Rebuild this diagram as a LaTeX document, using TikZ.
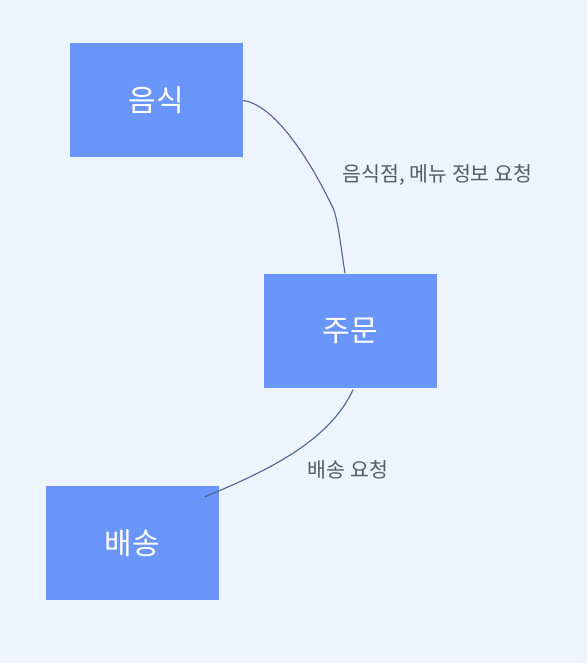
\documentclass[tikz,border=0pt]{standalone}
\usepackage{fontspec}
\setmainfont{Noto Sans CJK KR}
\definecolor{bg}{HTML}{EEF4FE}
\definecolor{boxblue}{HTML}{6A95FB}
\definecolor{linec}{HTML}{50648F}
\definecolor{labelc}{HTML}{555A63}
\begin{document}
\begin{tikzpicture}[x=1pt,y=-1pt,
  entity/.style={fill=boxblue,draw=none,minimum width=173pt,minimum height=114pt,inner sep=0pt,text=white,font=\fontsize{30}{34}\selectfont},
  conn/.style={draw=linec,line width=1.1pt},
  lbl/.style={text=labelc,font=\fontsize{20.5}{24}\selectfont,inner sep=0pt}]
\fill[bg] (0,0) rectangle (587,663);
\useasboundingbox (0,0) rectangle (587,663);
\node[entity] (food) at (156.5,100.5) {음식};
\node[entity] (order) at (350,330.5) {주문};
\node[entity] (delivery) at (132,543) {배송};
\draw[conn] (food.east) .. controls (275,105) and (310,160) .. (333,208) .. controls (338,219) and (342,255) .. ([xshift=-5pt]order.north);
\draw[conn] ([xshift=3pt,yshift=-2pt]order.south) .. controls (330,440) and (270,470) .. ([xshift=-14pt,yshift=-11pt]delivery.north east);
\node[lbl] (l1) at (437.5,175) {음식점, 메뉴 정보 요청};
\node[lbl] (l2) at (348,470) {배송 요청};
\end{tikzpicture}
\end{document}
